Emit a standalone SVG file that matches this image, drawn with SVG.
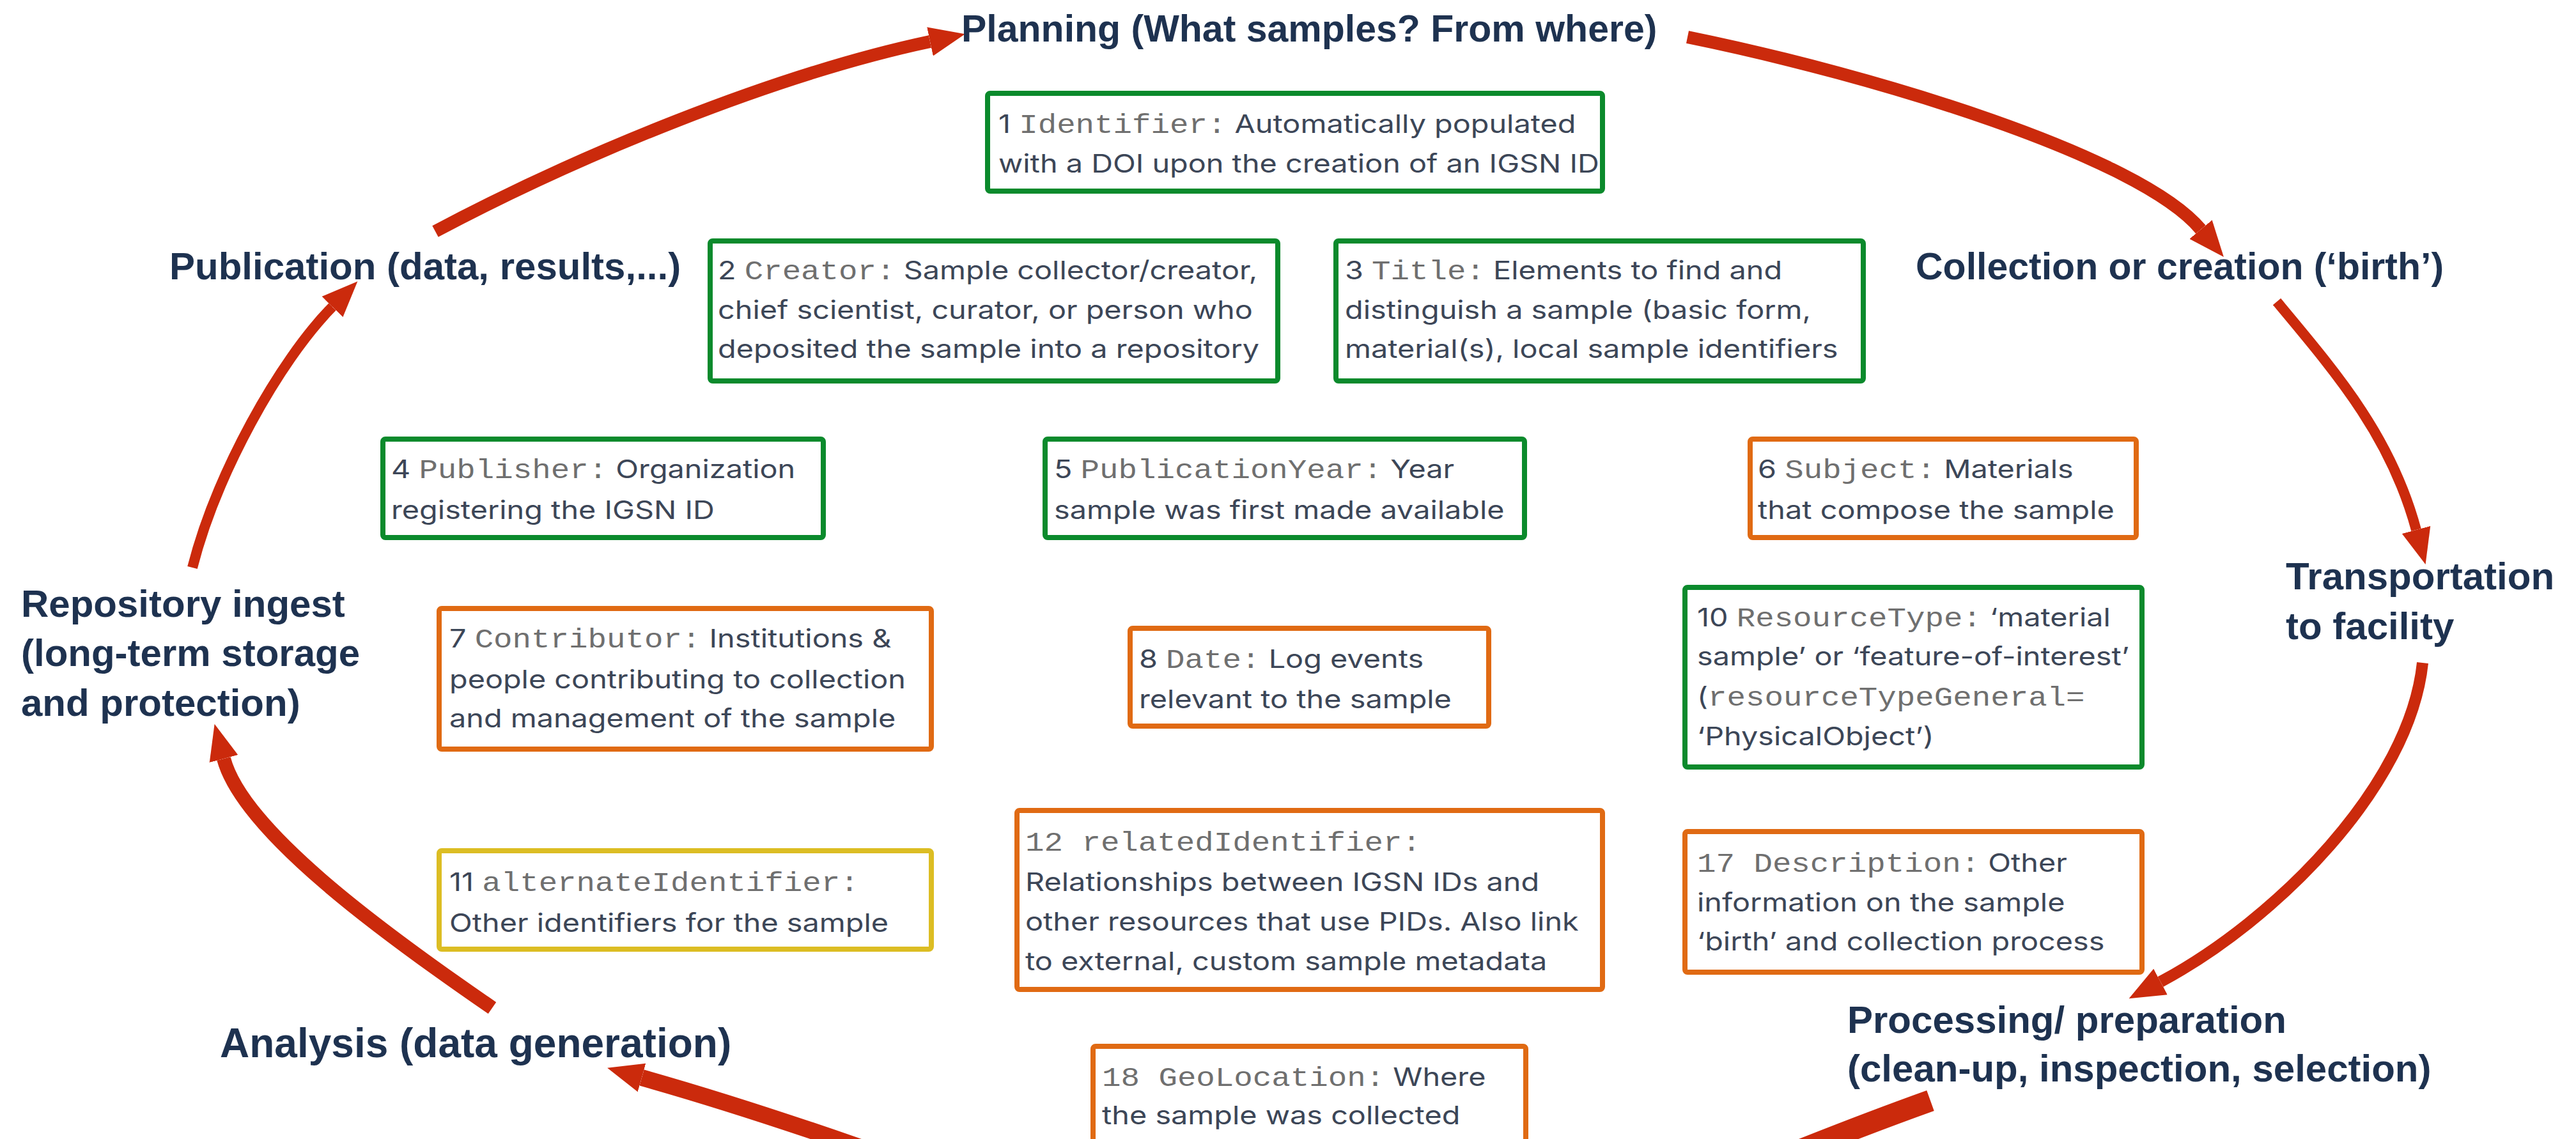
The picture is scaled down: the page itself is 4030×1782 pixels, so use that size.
<svg xmlns="http://www.w3.org/2000/svg" width="4030" height="1782" viewBox="0 0 4030 1782">
<style>
.bg{fill:#ffffff}
.box{fill:#ffffff;stroke-width:8}
.g{stroke:#0b8a2c}
.o{stroke:#e06a13}
.y{stroke:#dcbd23}
.t{font-family:Inter,'Liberation Sans',sans-serif;font-size:40px;fill:#3c4657}
.m{font-family:'Liberation Mono',monospace;font-size:42px;fill:#6f6f6f}
.h{font-family:'Liberation Sans',Arial,sans-serif;font-weight:bold;font-size:60px;fill:#1e3250}
.arr{fill:none;stroke:#cb2a0c;stroke-linecap:butt}
</style>
<defs>
<marker id="ah" markerUnits="userSpaceOnUse" markerWidth="60" markerHeight="50" viewBox="0 -25 60 50" refX="0" refY="0" orient="auto">
<path d="M0,-23 L56,0 L0,23 Z" fill="#cb2a0c"/>
</marker>
</defs>
<rect class="bg" x="0" y="0" width="4030" height="1782"/>

<g id="connectors">
<path class="arr" stroke-width="20" d="M681 362 C901 245 1210 117 1455 65" marker-end="url(#ah)"/>
<path class="arr" stroke-width="20" d="M2640 58 C2934 118 3347 244 3443 359" marker-end="url(#ah)"/>
<path class="arr" stroke-width="16" d="M3562 472 C3658 587 3741 684 3780 829" marker-end="url(#ah)"/>
<path class="arr" stroke-width="18" d="M3790 1037 C3770 1230 3560 1440 3380 1536" marker-end="url(#ah)"/>
<path class="arr" stroke-width="34" d="M3020 1722 Q2900 1765 2740 1830"/>
<path class="arr" stroke-width="26" d="M1360 1800 Q1160 1730 1004 1686" marker-end="url(#ah)"/>
<path class="arr" stroke-width="22" d="M770 1577 C600 1460 380 1300 350 1187" marker-end="url(#ah)"/>
<path class="arr" stroke-width="16" d="M301 888 C338 743 436 565 520 480" marker-end="url(#ah)"/>
</g>

<g id="stage-planning"><text class="h" x="1504" y="65" style="font-size:59px">Planning (What samples? From where)</text></g>
<g id="stage-collection"><text class="h" x="2997" y="437" style="font-size:59px">Collection or creation (‘birth’)</text></g>
<g id="stage-transportation"><text class="h"><tspan x="3576" y="922">Transportation</tspan><tspan x="3576" y="1000">to facility</tspan></text></g>
<g id="stage-processing"><text class="h"><tspan x="2890" y="1616">Processing/ preparation</tspan><tspan x="2890" y="1692">(clean-up, inspection, selection)</tspan></text></g>
<g id="stage-analysis"><text class="h" x="344" y="1654" style="font-size:64px">Analysis (data generation)</text></g>
<g id="stage-repository"><text class="h"><tspan x="33" y="965">Repository ingest</tspan><tspan x="33" y="1042">(long-term storage</tspan><tspan x="33" y="1120">and protection)</tspan></text></g>
<g id="stage-publication"><text class="h" x="265" y="437">Publication (data, results,...)</text></g>

<g id="field-1">
<rect class="box g" x="1545" y="146" width="962" height="153" rx="4"/>
<text class="t" transform="translate(1562,208) scale(1.17,1)"><tspan x="0" y="0">1 <tspan class="m">Identifier:</tspan> Automatically populated</tspan><tspan x="0" y="62">with a DOI upon the creation of an IGSN ID</tspan></text>
</g>
<g id="field-2">
<rect class="box g" x="1111" y="377" width="888" height="219" rx="4"/>
<text class="t" transform="translate(1123,437) scale(1.17,1)"><tspan x="0" y="0">2 <tspan class="m">Creator:</tspan> Sample collector/creator,</tspan><tspan x="0" y="62">chief scientist, curator, or person who</tspan><tspan x="0" y="123">deposited the sample into a repository</tspan></text>
</g>
<g id="field-3">
<rect class="box g" x="2090" y="377" width="825" height="219" rx="4"/>
<text class="t" transform="translate(2104,437) scale(1.17,1)"><tspan x="0" y="0">3 <tspan class="m">Title:</tspan> Elements to find and</tspan><tspan x="0" y="62">distinguish a sample (basic form,</tspan><tspan x="0" y="123">material(s), local sample identifiers</tspan></text>
</g>
<g id="field-4">
<rect class="box g" x="599" y="687" width="689" height="154" rx="4"/>
<text class="t" transform="translate(612,748) scale(1.17,1)"><tspan x="0" y="0">4 <tspan class="m">Publisher:</tspan> Organization</tspan><tspan x="0" y="64">registering the IGSN ID</tspan></text>
</g>
<g id="field-5">
<rect class="box g" x="1635" y="687" width="750" height="154" rx="4"/>
<text class="t" transform="translate(1649,748) scale(1.17,1)"><tspan x="0" y="0">5 <tspan class="m">PublicationYear:</tspan> Year</tspan><tspan x="0" y="64">sample was first made available</tspan></text>
</g>
<g id="field-6">
<rect class="box o" x="2738" y="687" width="604" height="154" rx="4"/>
<text class="t" transform="translate(2750,748) scale(1.17,1)"><tspan x="0" y="0">6 <tspan class="m">Subject:</tspan> Materials</tspan><tspan x="0" y="64">that compose the sample</tspan></text>
</g>
<g id="field-7">
<rect class="box o" x="687" y="952" width="770" height="220" rx="4"/>
<text class="t" transform="translate(703,1013) scale(1.17,1)"><tspan x="0" y="0">7 <tspan class="m">Contributor:</tspan> Institutions &amp;</tspan><tspan x="0" y="64">people contributing to collection</tspan><tspan x="0" y="125">and management of the sample</tspan></text>
</g>
<g id="field-8">
<rect class="box o" x="1768" y="983" width="561" height="153" rx="4"/>
<text class="t" transform="translate(1782,1045) scale(1.17,1)"><tspan x="0" y="0">8 <tspan class="m">Date:</tspan> Log events</tspan><tspan x="0" y="63">relevant to the sample</tspan></text>
</g>
<g id="field-10">
<rect class="box g" x="2636" y="919" width="715" height="281" rx="4"/>
<text class="t" transform="translate(2655,980) scale(1.17,1)"><tspan x="0" y="0">10 <tspan class="m">ResourceType:</tspan> ‘material</tspan><tspan x="0" y="61">sample’ or ‘feature-of-interest’</tspan><tspan x="0" y="124">(<tspan class="m">resourceTypeGeneral=</tspan></tspan><tspan x="0" y="186">‘PhysicalObject’)</tspan></text>
</g>
<g id="field-11">
<rect class="box y" x="687" y="1331" width="770" height="154" rx="4"/>
<text class="t" transform="translate(703,1394) scale(1.17,1)"><tspan x="0" y="0">11 <tspan class="m">alternateIdentifier:</tspan></tspan><tspan x="0" y="64">Other identifiers for the sample</tspan></text>
</g>
<g id="field-12">
<rect class="box o" x="1591" y="1268" width="916" height="280" rx="4"/>
<text class="t" transform="translate(1604,1331) scale(1.17,1)"><tspan x="0" y="0" class="m">12 relatedIdentifier:</tspan><tspan x="0" y="63">Relationships between IGSN IDs and</tspan><tspan x="0" y="125">other resources that use PIDs. Also link</tspan><tspan x="0" y="187">to external, custom sample metadata</tspan></text>
</g>
<g id="field-17">
<rect class="box o" x="2636" y="1301" width="715" height="220" rx="4"/>
<text class="t" transform="translate(2655,1364) scale(1.17,1)"><tspan x="0" y="0"><tspan class="m">17 Description:</tspan> Other</tspan><tspan x="0" y="62">information on the sample</tspan><tspan x="0" y="123">‘birth’ and collection process</tspan></text>
</g>
<g id="field-18">
<rect class="box o" x="1710" y="1637" width="677" height="220" rx="4"/>
<text class="t" transform="translate(1724,1699) scale(1.17,1)"><tspan x="0" y="0"><tspan class="m">18 GeoLocation:</tspan> Where</tspan><tspan x="0" y="60">the sample was collected</tspan></text>
</g>
</svg>
